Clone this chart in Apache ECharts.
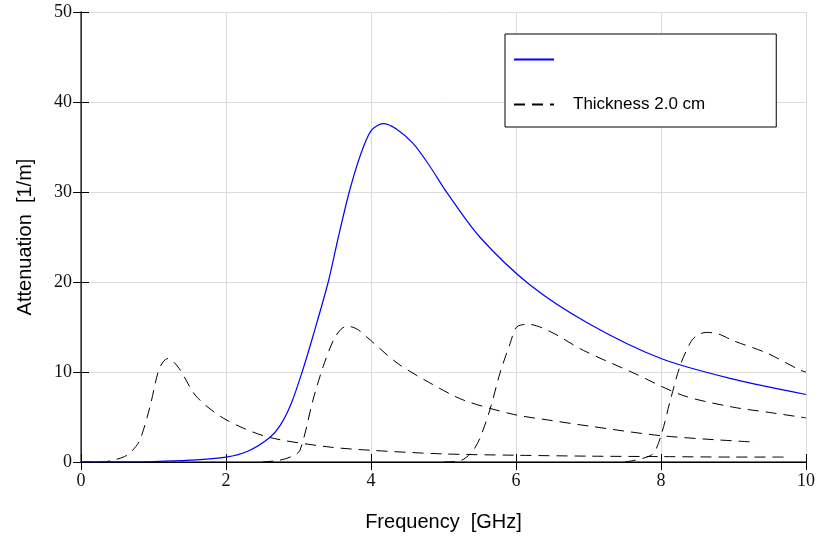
<!DOCTYPE html>
<html>
<head>
<meta charset="utf-8">
<script src="https://cdn.jsdelivr.net/npm/echarts@6/dist/echarts.min.js"></script>
<style>html,body{margin:0;padding:0;background:#fff}#c{width:820px;height:541px}</style>
</head>
<body>
<div id="c"></div>
<script>
var xTicks = [0, 2, 4, 6, 8, 10];
var yTicks = [0, 10, 20, 30, 40, 50];

var blueF = [0,0.5,1,1.5,2,2.3,2.6,2.75,2.9,3.05,3.2,3.41,3.55,3.7,3.85,4.0,4.17,4.35,4.58,4.8,5.05,5.5,6.19,7,8,9,10];
var blueV = [0,0.01,0.05,0.2,0.55,1.2,2.7,4.1,6.5,10,14,20,25,30,34,36.8,37.6,37,35.4,33,29.9,25,19.7,15.4,11.5,9.2,7.5];

var d1F = [0,0.3,0.44,0.6,0.7,0.81,0.95,1.06,1.13,1.2,1.28,1.37,1.6,2.0,2.57,3.39,4,5,6,7,8,9,9.7];
var d1V = [0,0,0.2,0.6,1.2,2.4,6.1,9.9,11.1,11.5,11.1,10.2,7.2,4.7,2.8,1.7,1.3,0.9,0.75,0.65,0.6,0.55,0.55];

var d2F = [2.5,2.74,2.9,3.02,3.2,3.34,3.48,3.58,3.67,3.8,3.94,4.36,4.81,5.27,5.96,6.5,7,8.03,9.32];
var d2V = [0,0.2,0.6,1.3,6.9,10.6,13.5,14.7,15.1,14.8,13.9,11,8.8,6.9,5.3,4.6,4.0,2.9,2.2];

var d3F = [5.0,5.25,5.4,5.5,5.64,5.78,5.92,6.01,6.17,6.47,6.93,7.62,8.3,8.99,9.5,10];
var d3V = [0,0.2,1.2,2.6,5.8,9.9,13.2,15,15.3,14.5,12.4,9.9,7.4,6.1,5.5,4.9];

var d4F = [7.5,7.75,7.9,8.01,8.13,8.26,8.4,8.5,8.63,8.8,8.99,9.46,9.92,10];
var d4V = [0,0.4,1.0,3.2,6.9,10.6,13.2,14.1,14.4,14.2,13.5,12.1,10.2,10.0];

var blueName = ' ';
var dashName = 'Thickness 2.0 cm';

function pairs(f, v) { return f.map(function (x, i) { return [x, v[i]]; }); }

var dashStyle = { color: '#000', width: 1, type: [11, 7] };
function dashSeries(f, v) {
  return { name: dashName, type: 'line', data: pairs(f, v), showSymbol: false, symbol: 'none',
    smooth: 0.3, lineStyle: dashStyle, itemStyle: { color: '#000' }, z: 3 };
}

var chart = echarts.init(document.getElementById('c'), null, { renderer: 'canvas' });
var tickFont = { fontFamily: 'Liberation Serif', fontSize: 18, color: '#111' };
chart.setOption({
  animation: false,
  backgroundColor: '#fff',
  grid: { left: 81, right: 14, top: 12, bottom: 79 },
  legend: {
    orient: 'vertical', left: 505, top: 34,
    data: [blueName, dashName],
    backgroundColor: '#fff', borderColor: '#000', borderWidth: 1,
    padding: [17, 71, 14, 8], itemGap: 28, itemWidth: 40, itemHeight: 14,
    itemStyle: { opacity: 0 },
    textStyle: { fontFamily: 'Liberation Sans', fontSize: 17, color: '#000', padding: [0, 0, 0, 14] }
  },
  xAxis: [{
    type: 'value', min: 0, max: 10, interval: 2,
    name: 'Frequency  [GHz]', nameLocation: 'middle', nameGap: 50,
    nameTextStyle: { fontFamily: 'Liberation Sans', fontSize: 20, color: '#000' },
    axisLine: { show: true, onZero: false, lineStyle: { color: '#444', width: 1.5 } },
    axisTick: { show: true, inside: true, length: 8, lineStyle: { color: '#000' } },
    axisLabel: Object.assign({ margin: 10 }, tickFont),
    splitLine: { show: true, lineStyle: { color: '#dcdcdc', width: 1 } }
  }, {
    type: 'value', position: 'top', min: 0, max: 10, interval: 2,
    axisLine: { show: true, lineStyle: { color: '#000', width: 1 } },
    axisTick: { show: true, inside: true, length: 8, lineStyle: { color: '#000' } },
    axisLabel: { show: false }, splitLine: { show: false }
  }],
  yAxis: [{
    type: 'value', min: 0, max: 50, interval: 10,
    name: 'Attenuation  [1/m]', nameLocation: 'middle', nameGap: 46,
    nameTextStyle: { fontFamily: 'Liberation Sans', fontSize: 20, color: '#000' },
    axisLine: { show: true, onZero: false, lineStyle: { color: '#000', width: 1 } },
    axisTick: { show: true, inside: true, length: 8, lineStyle: { color: '#000' } },
    axisLabel: Object.assign({ margin: 9 }, tickFont),
    splitLine: { show: true, lineStyle: { color: '#dcdcdc', width: 1 } }
  }, {
    type: 'value', position: 'right', min: 0, max: 50, interval: 10,
    axisLine: { show: true, lineStyle: { color: '#444', width: 1.5 } },
    axisTick: { show: true, inside: true, length: 8, lineStyle: { color: '#000' } },
    axisLabel: { show: false }, splitLine: { show: false }
  }],
  series: [
    { name: blueName, type: 'line', data: pairs(blueF, blueV), showSymbol: false, symbol: 'none',
      smooth: 0.3, lineStyle: { color: '#0000ff', width: 1.2 }, itemStyle: { color: '#0000ff' }, z: 4 },
    dashSeries(d1F, d1V),
    dashSeries(d2F, d2V),
    dashSeries(d3F, d3V),
    dashSeries(d4F, d4V)
  ]
});
</script>
</body>
</html>
